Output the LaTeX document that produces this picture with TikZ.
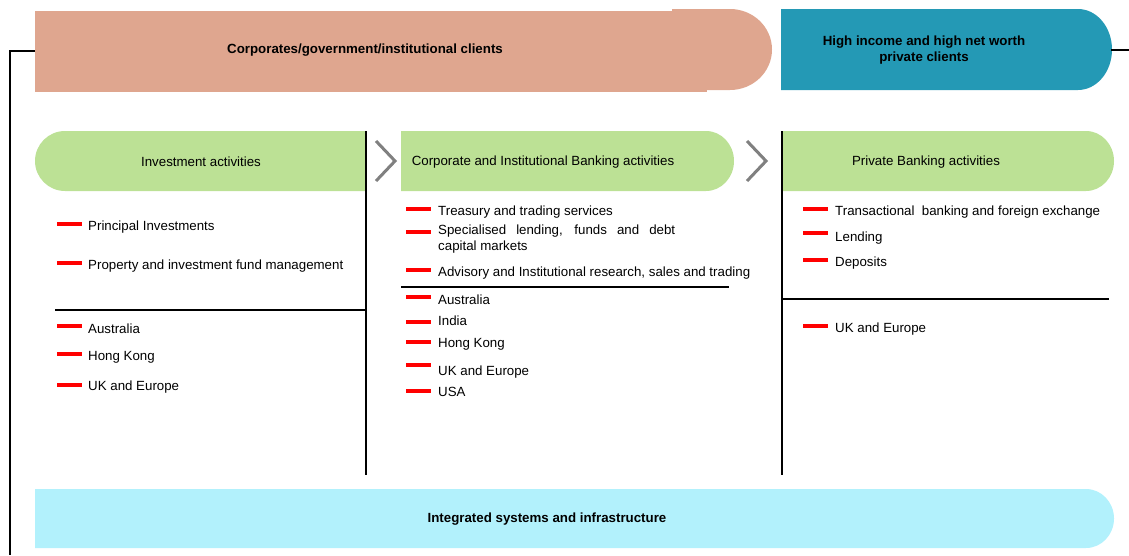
\documentclass[tikz,border=0pt]{standalone}
\usepackage{fontspec}
\setmainfont{Liberation Sans}
\definecolor{salmon}{HTML}{DFA68F}
\definecolor{tealc}{HTML}{2499B5}
\definecolor{greenc}{HTML}{BCE195}
\definecolor{cyanc}{HTML}{B2F1FC}
\definecolor{chev}{HTML}{808080}
\tikzset{
  txt/.style={anchor=base west, inner sep=0pt, font=\fontsize{13.3}{16}\selectfont},
  title/.style={inner sep=0pt, font=\fontsize{13.3}{16}\selectfont\bfseries, align=center},
  head/.style={inner sep=0pt, font=\fontsize{13.3}{16}\selectfont},
  reddash/.style={fill=red, draw=none, minimum width=25pt, minimum height=4pt, inner sep=0pt, anchor=west},
  rule/.style={line width=2pt, black},
  chevron/.style={line width=3pt, chev},
}
\begin{document}
\begin{tikzpicture}[x=1pt,y=-1pt]
\useasboundingbox (0,0) rectangle (1129,555);
% top client bars
\fill[salmon] (35,11) rectangle (707,92);
\fill[salmon] (672,9) -- (730,9) arc[start angle=-90,end angle=90,x radius=42,y radius=40.5] -- (672,90) -- cycle;
\fill[tealc] (781,9) -- (1078,9) arc[start angle=-90,end angle=90,x radius=34,y radius=40.5] -- (781,90) -- cycle;
\node[title] (corp) at (365,50) {Corporates/government/institutional clients};
\node[title] (priv) at (924,50) {High income and high net worth\\private clients};
\coordinate (tealend) at (1111,50);
\coordinate (rightedge) at (1129,50);
\draw[rule] (tealend) -- (rightedge);
\coordinate (lefttop) at (35,51);
\coordinate (leftcorner) at (10,51);
\coordinate (leftbottom) at (10,555);
\draw[rule] (lefttop) -- (leftcorner) -- (leftbottom);
% green headers
\fill[greenc] (366,131) -- (65,131) arc[start angle=-90,end angle=-270,x radius=30,y radius=30] -- (366,191) -- cycle;
\fill[greenc] (401,131) -- (706,131) arc[start angle=-90,end angle=90,x radius=28,y radius=30] -- (401,191) -- cycle;
\fill[greenc] (782,131) -- (1086,131) arc[start angle=-90,end angle=90,x radius=28,y radius=30] -- (782,191) -- cycle;
\node[head] (h1) at (201,162) {Investment activities};
\node[head] (h2) at (543,162) {Corporate and Institutional Banking activities};
\node[head] (h3) at (926,162) {Private Banking activities};
% chevrons
\draw[chevron] (376,141) -- (395,161) -- (376,181);
\draw[chevron] (747,141) -- (766,161) -- (747,181);
% column separators
\coordinate (v1t) at (366,131); \coordinate (v1b) at (366,475);
\coordinate (v2t) at (782,131); \coordinate (v2b) at (782,475);
\draw[rule] (v1t) -- (v1b);
\draw[rule] (v2t) -- (v2b);
% dividers
\coordinate (d1a) at (55,310); \coordinate (d1b) at (366,310);
\coordinate (d2a) at (401,287); \coordinate (d2b) at (729,287);
\coordinate (d3a) at (782,299); \coordinate (d3b) at (1109,299);
\draw[rule] (d1a) -- (d1b);
\draw[rule] (d2a) -- (d2b);
\draw[rule] (d3a) -- (d3b);
% left column
\node[reddash] (m1) at (57,224) {}; \node[txt] (t1) at (88,230) {Principal Investments};
\node[reddash] (m2) at (57,263) {}; \node[txt] (t2) at (88,269) {Property and investment fund management};
\node[reddash] (m3) at (57,326) {}; \node[txt] (t3) at (88,333) {Australia};
\node[reddash] (m4) at (57,354) {}; \node[txt] (t4) at (88,360) {Hong Kong};
\node[reddash] (m5) at (57,385) {}; \node[txt] (t5) at (88,390) {UK and Europe};
% middle column
\node[reddash] (n1) at (406,209) {}; \node[txt] (u1) at (438,215) {Treasury and trading services};
\node[reddash] (n2) at (406,232) {}; \node[txt] (u2) at (438,234) {\makebox[237pt][s]{Specialised lending, funds and debt}};
\node[txt] (u2b) at (438,250) {capital markets};
\node[reddash] (n3) at (406,270) {}; \node[txt] (u3) at (438,276) {Advisory and Institutional research, sales and trading};
\node[reddash] (n4) at (406,297) {}; \node[txt] (u4) at (438,304) {Australia};
\node[reddash] (n5) at (406,322) {}; \node[txt] (u5) at (438,325) {India};
\node[reddash] (n6) at (406,342) {}; \node[txt] (u6) at (438,347) {Hong Kong};
\node[reddash] (n7) at (406,365) {}; \node[txt] (u7) at (438,375) {UK and Europe};
\node[reddash] (n8) at (406,391) {}; \node[txt] (u8) at (438,396) {USA};
% right column
\node[reddash] (p1) at (803,209) {}; \node[txt] (r1) at (835,215) {Transactional\ \ banking and foreign exchange};
\node[reddash] (p2) at (803,233) {}; \node[txt] (r2) at (835,241) {Lending};
\node[reddash] (p3) at (803,260) {}; \node[txt] (r3) at (835,266) {Deposits};
\node[reddash] (p4) at (803,326) {}; \node[txt] (r4) at (835,332) {UK and Europe};
% bottom bar
\fill[cyanc] (35,489) -- (1086,489) arc[start angle=-90,end angle=90,x radius=28,y radius=29.5] -- (35,548) -- cycle;
\node[title] (infra) at (547,519) {Integrated systems and infrastructure};
\end{tikzpicture}
\end{document}
